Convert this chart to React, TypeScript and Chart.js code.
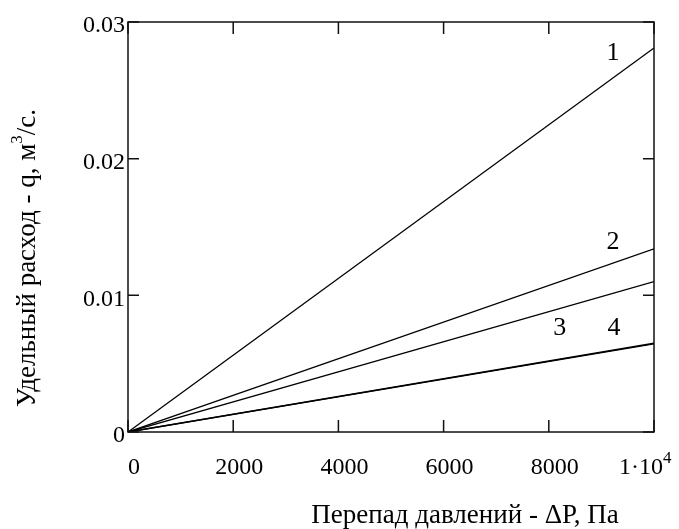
import React, { useEffect, useRef } from "react";
import { Chart, registerables } from "chart.js";

Chart.register(...registerables);

const pressure = [0, 10000];
const line1 = [0, 0.0281];
const line2 = [0, 0.0134];
const line3 = [0, 0.011];
const line4a = [0, 0.0065];
const line4b = [0, 0.00645];

const xTickValues = [0, 2000, 4000, 6000, 8000, 10000];
const xTickLabels = ["0", "2000", "4000", "6000", "8000", "1·10"];
const yTickValues = [0, 0.01, 0.02, 0.03];
const yTickLabels = ["0", "0.01", "0.02", "0.03"];

const curveLabels = ["1", "2", "3", "4"];
const curveLabelX = [9220, 9220, 8210, 9240];
const curveLabelY = [0.0277, 0.0139, 0.0076, 0.0076];

const xTitle = "Перепад давлений - ΔР, Па";
const yTitleMain = "Удельный расход - q, м";
const yTitleSup = "3";
const yTitleEnd = "/с.";

const FONT = "'Liberation Serif', 'Times New Roman', serif";

const toPts = (ys: number[]) => pressure.map((x, i) => ({ x, y: ys[i] }));

const decor = {
  id: "decor",
  afterDraw(chart: any) {
    const ctx = chart.ctx;
    const xs = chart.scales.x;
    const ys = chart.scales.y;
    const { left, right, top, bottom } = chart.chartArea;
    ctx.save();
    ctx.strokeStyle = "#111";
    ctx.lineWidth = 1.5;
    ctx.strokeRect(left, top, right - left, bottom - top);
    ctx.beginPath();
    xTickValues.forEach((v) => {
      const px = xs.getPixelForValue(v);
      ctx.moveTo(px, bottom);
      ctx.lineTo(px, bottom - 12);
      ctx.moveTo(px, top);
      ctx.lineTo(px, top + 12);
    });
    yTickValues.forEach((v) => {
      const py = ys.getPixelForValue(v);
      ctx.moveTo(left, py);
      ctx.lineTo(left + 11, py);
      ctx.moveTo(right, py);
      ctx.lineTo(right - 11, py);
    });
    ctx.stroke();

    ctx.fillStyle = "#000";
    ctx.font = `24px ${FONT}`;
    ctx.textBaseline = "middle";
    xTickValues.forEach((v, i) => {
      const px = xs.getPixelForValue(v);
      if (i === xTickValues.length - 1) {
        ctx.textAlign = "right";
        ctx.fillText(xTickLabels[i], px + 9, bottom + 36);
        ctx.font = `17px ${FONT}`;
        ctx.textAlign = "left";
        ctx.fillText("4", px + 9, bottom + 27);
        ctx.font = `24px ${FONT}`;
      } else {
        ctx.textAlign = "center";
        ctx.fillText(xTickLabels[i], px + 6, bottom + 36);
      }
    });
    ctx.textAlign = "right";
    yTickValues.forEach((v, i) => {
      const py = ys.getPixelForValue(v);
      ctx.fillText(yTickLabels[i], left - 3, py + 4);
    });
    ctx.font = `26px ${FONT}`;
    ctx.textAlign = "center";
    curveLabels.forEach((t, i) => {
      ctx.fillText(t, xs.getPixelForValue(curveLabelX[i]), ys.getPixelForValue(curveLabelY[i]));
    });
    ctx.font = `27px ${FONT}`;
    ctx.textAlign = "center";
    ctx.fillText(xTitle, 465, 516);
    ctx.translate(28, 258);
    ctx.rotate(-Math.PI / 2);
    const wMain = ctx.measureText(yTitleMain).width;
    ctx.font = `17px ${FONT}`;
    const wSup = ctx.measureText(yTitleSup).width;
    ctx.font = `27px ${FONT}`;
    const wEnd = ctx.measureText(yTitleEnd).width;
    const total = wMain + wSup + wEnd;
    let x0 = -total / 2;
    ctx.textAlign = "left";
    ctx.fillText(yTitleMain, x0, 0);
    x0 += wMain;
    ctx.font = `17px ${FONT}`;
    ctx.fillText(yTitleSup, x0, -10);
    x0 += wSup;
    ctx.font = `27px ${FONT}`;
    ctx.fillText(yTitleEnd, x0, 0);
    ctx.restore();
  },
};

export default function App() {
  const ref = useRef<HTMLCanvasElement | null>(null);
  useEffect(() => {
    if (!ref.current) return;
    const mk = (data: number[], w: number) => ({
      data: toPts(data),
      borderColor: "#000",
      borderWidth: w,
      pointRadius: 0,
      fill: false,
      tension: 0,
    });
    const chart = new Chart(ref.current, {
      type: "line",
      data: {
        datasets: [mk(line1, 1.3), mk(line2, 1.3), mk(line3, 1.3), mk(line4a, 1.4), mk(line4b, 1.4)],
      },
      options: {
        animation: false,
        responsive: false,
        devicePixelRatio: 1,
        layout: { padding: { left: 128, top: 22, right: 25, bottom: 97 } },
        plugins: { legend: { display: false }, tooltip: { enabled: false } },
        scales: {
          x: { type: "linear", min: 0, max: 10000, display: false },
          y: { type: "linear", min: 0, max: 0.03, display: false },
        },
      },
      plugins: [decor],
    });
    return () => chart.destroy();
  }, []);
  return (
    <div style={{ position: "absolute", left: 0, top: 0, width: 679, height: 529, background: "#fff" }}>
      <canvas ref={ref} width={679} height={529} />
    </div>
  );
}
